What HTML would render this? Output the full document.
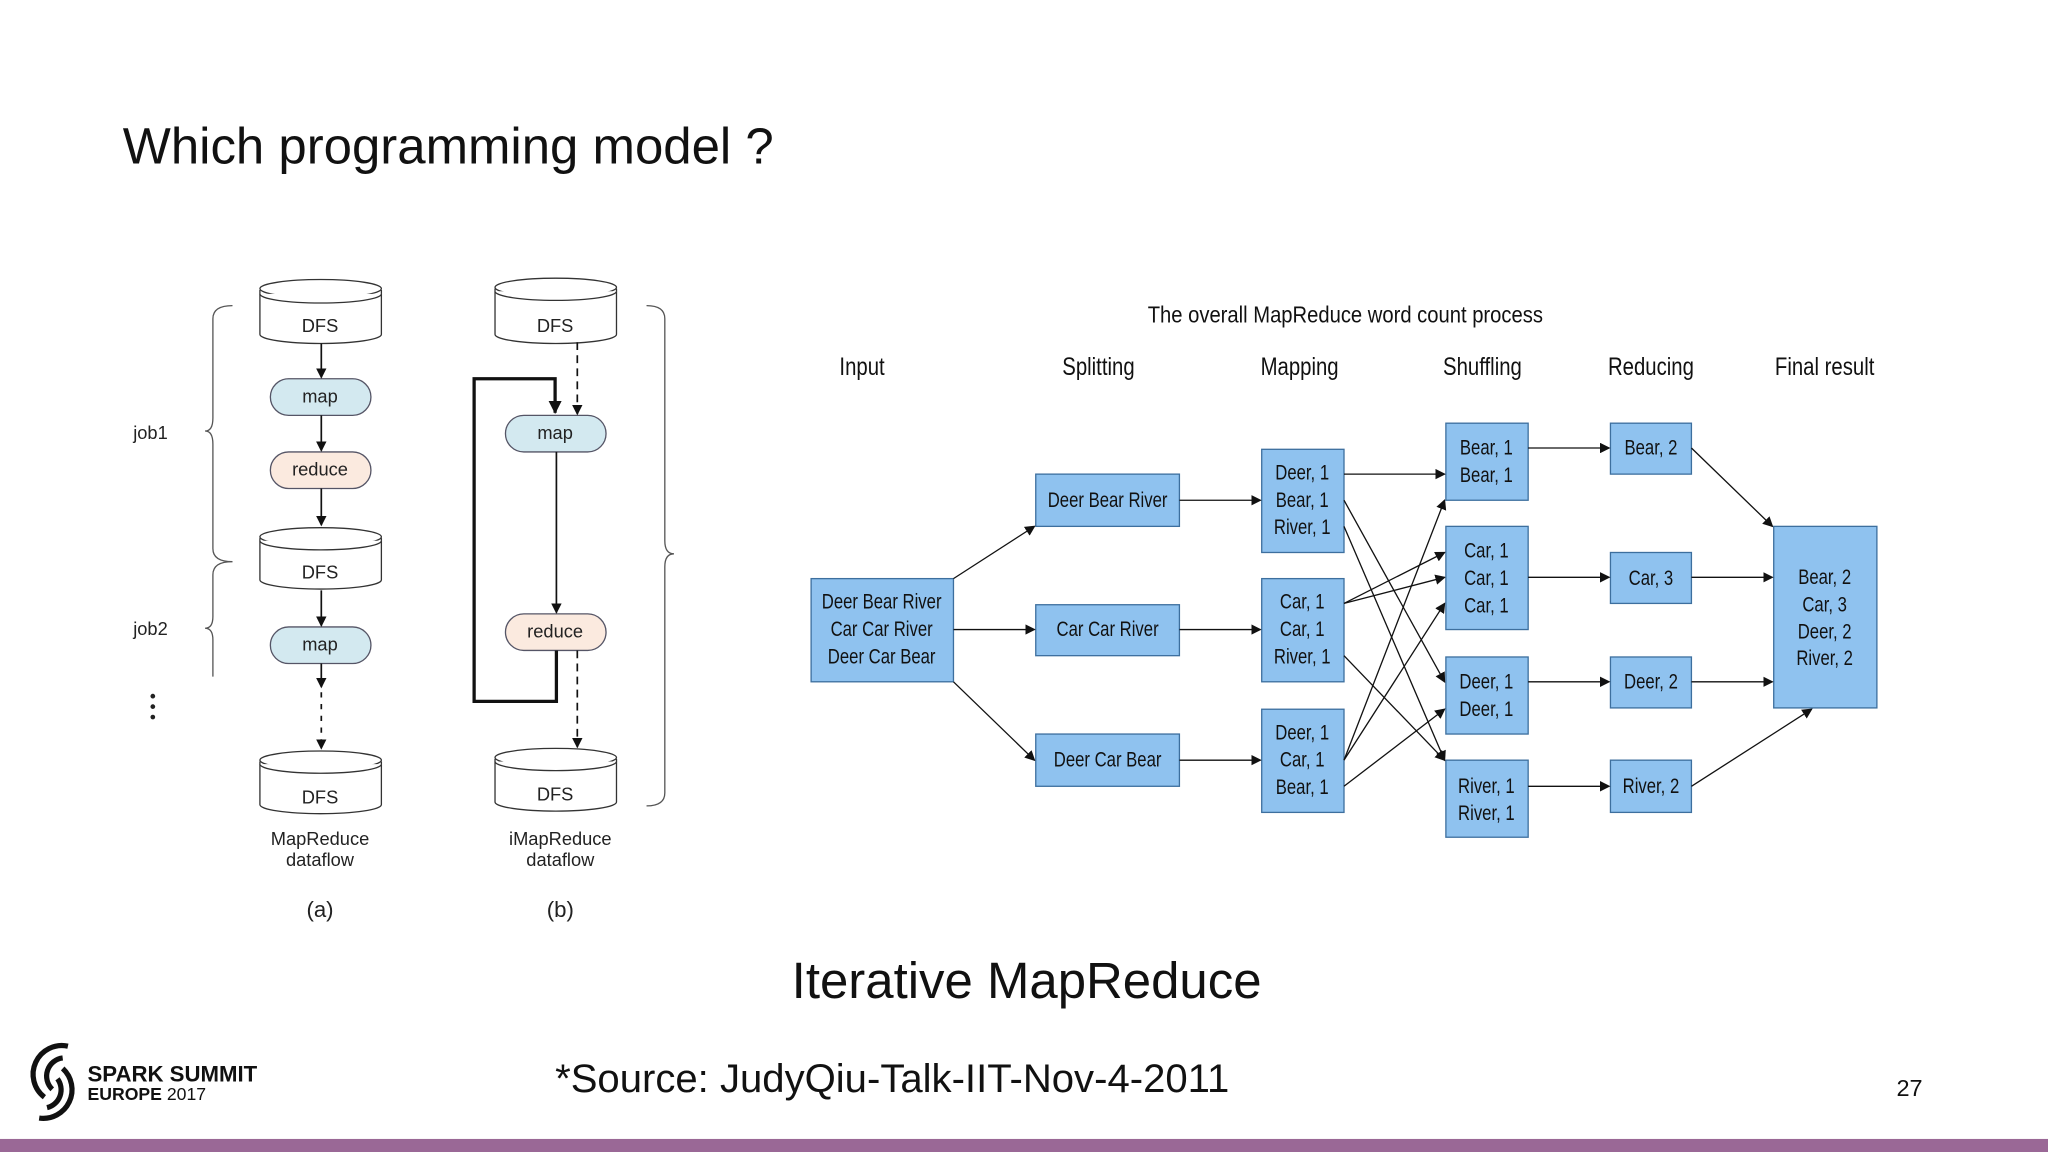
<!DOCTYPE html>
<html><head><meta charset="utf-8"><style>
html,body{margin:0;padding:0;background:#fff;}
svg{display:block;}
text{font-family:"Liberation Sans",sans-serif;}
.n{font-size:16px;fill:#111;}
.h{font-size:19px;fill:#111;}
.b{fill:#8fc2ef;stroke:#3d6f9e;stroke-width:1;}
.s{font-size:14px;fill:#222;}
</style></head><body>
<svg width="2048" height="1152" viewBox="0 0 1568 882" xmlns="http://www.w3.org/2000/svg">
<defs>
<marker id="a" markerWidth="8" markerHeight="8" refX="7" refY="4" orient="auto" markerUnits="userSpaceOnUse"><path d="M0,0 L8,4 L0,8 z" fill="#111"/></marker>
<marker id="c" markerWidth="10" markerHeight="10" refX="9" refY="5" orient="auto" markerUnits="userSpaceOnUse"><path d="M0,0 L10,5 L0,10 z" fill="#111"/></marker>
</defs>
<rect width="1568" height="882" fill="#fff"/>
<text x="94" y="125" font-size="39" fill="#111">Which programming model ?</text>

<g fill="#fff" stroke="#333" stroke-width="1">
<path d="M199,222 L199,256 A46.5,7 0 0 0 292,256 L292,222"/><ellipse cx="245.5" cy="221" rx="46.5" ry="7"/><path d="M199,225 A46.5,7 0 0 0 292,225"/>
<path d="M199,412 L199,444 A46.5,7 0 0 0 292,444 L292,412"/><ellipse cx="245.5" cy="411" rx="46.5" ry="7"/><path d="M199,414 A46.5,7 0 0 0 292,414"/>
<path d="M199,583 L199,616 A46.5,7 0 0 0 292,616 L292,583"/><ellipse cx="245.5" cy="582" rx="46.5" ry="7"/><path d="M199,585 A46.5,7 0 0 0 292,585"/>
<path d="M379,221 L379,256 A46.5,7 0 0 0 472,256 L472,221"/><ellipse cx="425.5" cy="220" rx="46.5" ry="7"/><path d="M379,223 A46.5,7 0 0 0 472,223"/>
<path d="M379,581 L379,614 A46.5,7 0 0 0 472,614 L472,581"/><ellipse cx="425.5" cy="580" rx="46.5" ry="7"/><path d="M379,583 A46.5,7 0 0 0 472,583"/>
</g>
<g class="s" text-anchor="middle">
<text x="245" y="254">DFS</text><text x="245" y="443">DFS</text><text x="245" y="615">DFS</text>
<text x="425" y="254">DFS</text><text x="425" y="613">DFS</text>
</g>
<g stroke="#556" stroke-width="1">
<rect x="207" y="290" width="77" height="28" rx="14" fill="#d3e9f0"/>
<rect x="207" y="346" width="77" height="28" rx="14" fill="#fbeadf"/>
<rect x="207" y="480" width="77" height="28" rx="14" fill="#d3e9f0"/>
<rect x="387" y="318" width="77" height="28" rx="14" fill="#d3e9f0"/>
<rect x="387" y="470" width="77" height="28" rx="14" fill="#fbeadf"/>
</g>
<g class="s" text-anchor="middle">
<text x="245" y="308">map</text><text x="245" y="364">reduce</text><text x="245" y="498">map</text>
<text x="425" y="336">map</text><text x="425" y="488">reduce</text>
</g>
<g stroke="#111" stroke-width="1.3" fill="none">
<line x1="246" y1="263" x2="246" y2="289" marker-end="url(#a)"/>
<line x1="246" y1="318" x2="246" y2="345" marker-end="url(#a)"/>
<line x1="246" y1="374" x2="246" y2="402" marker-end="url(#a)"/>
<line x1="246" y1="452" x2="246" y2="479" marker-end="url(#a)"/>
<line x1="246" y1="508" x2="246" y2="526" marker-end="url(#a)"/>
<line x1="246" y1="530" x2="246" y2="573" stroke-dasharray="4,5" marker-end="url(#a)"/>
<line x1="442" y1="262" x2="442" y2="317" stroke-dasharray="6,4" marker-end="url(#a)"/>
<line x1="442" y1="498" x2="442" y2="572" stroke-dasharray="6,4" marker-end="url(#a)"/>
<line x1="426" y1="346" x2="426" y2="469" marker-end="url(#a)"/>
<path d="M426,498 L426,537 L363,537 L363,290 L425,290 L425,316" stroke-width="2.5" marker-end="url(#c)"/>
</g>
<g stroke="#555" stroke-width="1" fill="none">
<path d="M178,234 Q163,234 163,244 L163,320 Q163,330 157,330 Q163,330 163,340 L163,420 Q163,430 178,430"/>
<path d="M178,430 Q163,430 163,440 L163,472 Q163,481 157,481 Q163,481 163,490 L163,518"/>
<path d="M495,234 Q509,234 509,244 L509,414 Q509,424 516,424 Q509,424 509,434 L509,607 Q509,617 495,617"/>
</g>
<text x="102" y="336" font-size="14" fill="#222">job1</text>
<text x="102" y="486" font-size="14" fill="#222">job2</text>
<g fill="#222"><circle cx="117" cy="533" r="1.8"/><circle cx="117" cy="541" r="1.8"/><circle cx="117" cy="549" r="1.8"/></g>
<g font-size="14" fill="#222" text-anchor="middle">
<text x="245" y="647">MapReduce</text><text x="245" y="663">dataflow</text>
<text x="429" y="647">iMapReduce</text><text x="429" y="663">dataflow</text>
<text x="245" y="702" font-size="17">(a)</text><text x="429" y="702" font-size="17">(b)</text>
</g>

<g text-anchor="middle">
<text transform="translate(1030,247) scale(0.86,1)" x="0" y="0" class="h" style="font-size:18px">The overall MapReduce word count process</text>
<text transform="translate(660,287) scale(0.82,1)" class="h">Input</text>
<text transform="translate(841,287) scale(0.82,1)" class="h">Splitting</text>
<text transform="translate(995,287) scale(0.82,1)" class="h">Mapping</text>
<text transform="translate(1135,287) scale(0.82,1)" class="h">Shuffling</text>
<text transform="translate(1264,287) scale(0.82,1)" class="h">Reducing</text>
<text transform="translate(1397,287) scale(0.82,1)" class="h">Final result</text>
</g>
<g class="b">
<rect x="621" y="443" width="109" height="79"/>
<rect x="793" y="363" width="110" height="40"/><rect x="793" y="463" width="110" height="39"/><rect x="793" y="562" width="110" height="40"/>
<rect x="966" y="344" width="63" height="79"/><rect x="966" y="443" width="63" height="79"/><rect x="966" y="543" width="63" height="79"/>
<rect x="1107" y="324" width="63" height="59"/><rect x="1107" y="403" width="63" height="79"/><rect x="1107" y="503" width="63" height="59"/><rect x="1107" y="582" width="63" height="59"/>
<rect x="1233" y="324" width="62" height="39"/><rect x="1233" y="423" width="62" height="39"/><rect x="1233" y="503" width="62" height="39"/><rect x="1233" y="582" width="62" height="40"/>
<rect x="1358" y="403" width="79" height="139"/>
</g>
<g class="n" text-anchor="middle">
<text transform="translate(675,466) scale(0.8,1)">Deer Bear River</text><text transform="translate(675,487) scale(0.8,1)">Car Car River</text><text transform="translate(675,508) scale(0.8,1)">Deer Car Bear</text>
<text transform="translate(848,388) scale(0.8,1)">Deer Bear River</text><text transform="translate(848,487) scale(0.8,1)">Car Car River</text><text transform="translate(848,587) scale(0.8,1)">Deer Car Bear</text>
<text transform="translate(997,367) scale(0.8,1)">Deer, 1</text><text transform="translate(997,388) scale(0.8,1)">Bear, 1</text><text transform="translate(997,409) scale(0.8,1)">River, 1</text>
<text transform="translate(997,466) scale(0.8,1)">Car, 1</text><text transform="translate(997,487) scale(0.8,1)">Car, 1</text><text transform="translate(997,508) scale(0.8,1)">River, 1</text>
<text transform="translate(997,566) scale(0.8,1)">Deer, 1</text><text transform="translate(997,587) scale(0.8,1)">Car, 1</text><text transform="translate(997,608) scale(0.8,1)">Bear, 1</text>
<text transform="translate(1138,348) scale(0.8,1)">Bear, 1</text><text transform="translate(1138,369) scale(0.8,1)">Bear, 1</text>
<text transform="translate(1138,427) scale(0.8,1)">Car, 1</text><text transform="translate(1138,448) scale(0.8,1)">Car, 1</text><text transform="translate(1138,469) scale(0.8,1)">Car, 1</text>
<text transform="translate(1138,527) scale(0.8,1)">Deer, 1</text><text transform="translate(1138,548) scale(0.8,1)">Deer, 1</text>
<text transform="translate(1138,607) scale(0.8,1)">River, 1</text><text transform="translate(1138,628) scale(0.8,1)">River, 1</text>
<text transform="translate(1264,348) scale(0.8,1)">Bear, 2</text><text transform="translate(1264,448) scale(0.8,1)">Car, 3</text><text transform="translate(1264,527) scale(0.8,1)">Deer, 2</text><text transform="translate(1264,607) scale(0.8,1)">River, 2</text>
<text transform="translate(1397,447) scale(0.8,1)">Bear, 2</text><text transform="translate(1397,468) scale(0.8,1)">Car, 3</text><text transform="translate(1397,489) scale(0.8,1)">Deer, 2</text><text transform="translate(1397,509) scale(0.8,1)">River, 2</text>
</g>
<g stroke="#111" stroke-width="1" fill="none" marker-end="url(#a)">
<line x1="730" y1="443" x2="792" y2="403"/><line x1="730" y1="482" x2="792" y2="482"/><line x1="730" y1="522" x2="792" y2="582"/>
<line x1="903" y1="383" x2="965" y2="383"/><line x1="903" y1="482" x2="965" y2="482"/><line x1="903" y1="582" x2="965" y2="582"/>
<line x1="1029" y1="363" x2="1106" y2="363"/>
<line x1="1029" y1="383" x2="1106" y2="522"/>
<line x1="1029" y1="403" x2="1106" y2="582"/>
<line x1="1029" y1="462" x2="1106" y2="423"/>
<line x1="1029" y1="462" x2="1106" y2="442"/>
<line x1="1029" y1="502" x2="1106" y2="582"/>
<line x1="1029" y1="582" x2="1106" y2="383"/>
<line x1="1029" y1="582" x2="1106" y2="462"/>
<line x1="1029" y1="602" x2="1106" y2="543"/>
<line x1="1170" y1="343" x2="1232" y2="343"/><line x1="1170" y1="442" x2="1232" y2="442"/><line x1="1170" y1="522" x2="1232" y2="522"/><line x1="1170" y1="602" x2="1232" y2="602"/>
<line x1="1295" y1="343" x2="1357" y2="403"/><line x1="1295" y1="442" x2="1357" y2="442"/><line x1="1295" y1="522" x2="1357" y2="522"/><line x1="1295" y1="602" x2="1387" y2="543"/>
</g>

<text x="786" y="764" font-size="39" fill="#111" text-anchor="middle">Iterative MapReduce</text>
<text x="425" y="836" font-size="30.7" fill="#111">*Source: JudyQiu-Talk-IIT-Nov-4-2011</text>
<text x="1452" y="839" font-size="18" fill="#111">27</text>

<g fill="none" stroke="#111" stroke-width="4">
<path d="M52,801 A22,22 0 0 0 34,840"/>
<path d="M48,810 A14,14 0 0 0 40,834"/>
<path d="M30,856 A22,22 0 0 0 48,818"/>
<path d="M36,848 A14,14 0 0 0 44,826"/>
</g>
<text x="67" y="828" font-size="17" font-weight="bold" fill="#111">SPARK SUMMIT</text>
<text x="67" y="842" font-size="13.5" font-weight="bold" fill="#111">EUROPE <tspan font-weight="normal">2017</tspan></text>
<rect x="0" y="872" width="1568" height="10" fill="#9a6896"/>
</svg>
</body></html>
